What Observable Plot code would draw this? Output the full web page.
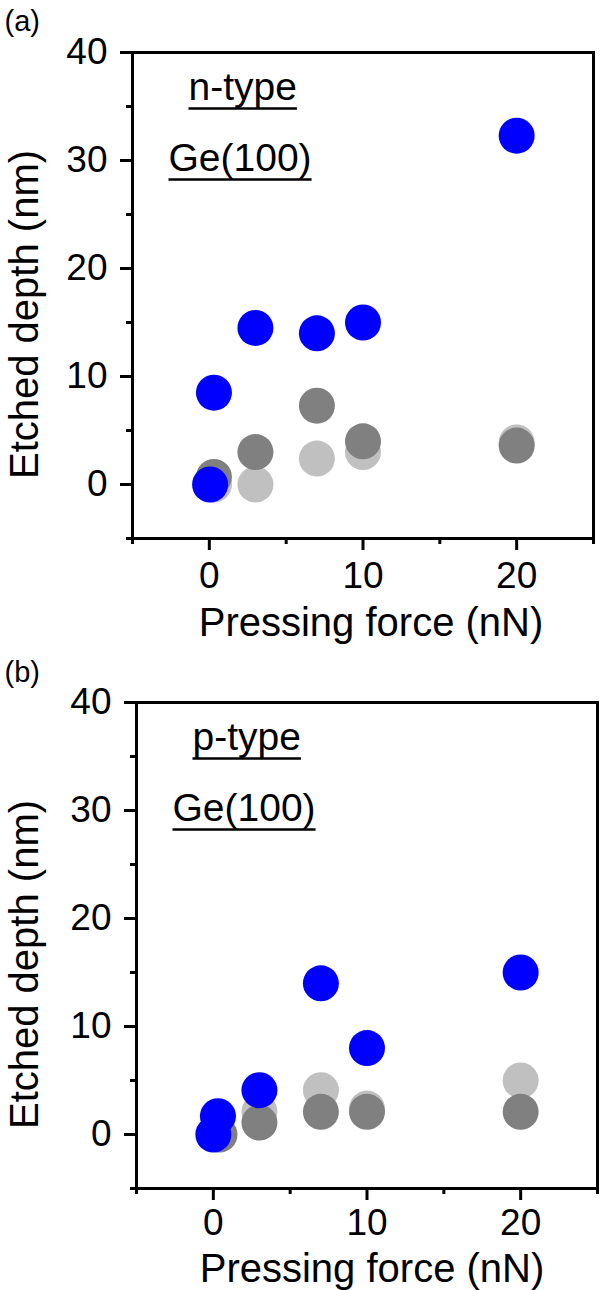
<!DOCTYPE html>
<html><head><meta charset="utf-8">
<script src="https://cdn.jsdelivr.net/npm/d3@7"></script>
<script src="https://cdn.jsdelivr.net/npm/@observablehq/plot@0.6"></script>
<style>
html,body{margin:0;padding:0;background:#fff;}
#chart svg{display:block;}
</style></head><body><div id="chart"></div>
<script>
// ---- axes / labels ----
const xDomain = [-5, 25];
const yDomain = [-5, 40];
const xMajorTicks = [0, 10, 20];
const xMinorTicks = [-5, 5, 15, 25];
const yMajorTicks = [0, 10, 20, 30, 40];
const yMinorTicks = [-5, 5, 15, 25, 35];
const xTitle = "Pressing force (nN)";
const yTitle = "Etched depth (nm)";
const panelLabels = ["(a)", "(b)"];
const dopingLabels = ["n-type", "p-type"];
const crystalLabel = "Ge(100)";

// ---- panel (a): n-type Ge(100) ----
const aLightForce = [0.3, 3, 7, 10, 20];
const aLightDepth = [0, 0, 2.4, 3.0, 3.9];
const aDarkForce = [0.3, 3, 7, 10, 20];
const aDarkDepth = [0.7, 3.0, 7.3, 4.0, 3.6];
const aBlueForce = [0.05, 0.3, 3, 7, 10, 20];
const aBlueDepth = [0, 8.5, 14.5, 14.0, 15.0, 32.3];

// ---- panel (b): p-type Ge(100) ----
const bLightForce = [0.3, 3, 7, 10, 20];
const bLightDepth = [0, 2.1, 4.1, 2.4, 5.0];
const bDarkForce = [0.4, 3, 7, 10, 20];
const bDarkDepth = [0, 1.1, 2.1, 2.1, 2.1];
const bBlueForce = [0, 0.3, 3, 7, 10, 20];
const bBlueDepth = [0, 1.7, 4.1, 14.0, 8.0, 15.0];

const FONT = "'Liberation Sans', Arial, Helvetica, sans-serif";
const colors = {light: "#c0c0c0", dark: "#808080", blue: "#0000ff"};

function pts(xs, ys) { return xs.map((x, i) => ({x, y: ys[i]})); }

function panel(cfg) {
  const W = 600, H = 645;
  const series = [
    {d: pts(cfg.light[0], cfg.light[1]), c: colors.light},
    {d: pts(cfg.dark[0], cfg.dark[1]), c: colors.dark},
    {d: pts(cfg.blue[0], cfg.blue[1]), c: colors.blue}
  ];
  const plot = Plot.plot({
    width: W, height: H,
    marginTop: cfg.mt, marginBottom: H - cfg.mt - 486, marginLeft: cfg.ml, marginRight: W - cfg.ml - 461,
    style: {fontFamily: FONT, fontSize: "37px", background: "white", color: "black"},
    x: {domain: xDomain, label: null},
    y: {domain: yDomain, label: null},
    marks: [
      ...series.map(s => Plot.dot(s.d, {x: "x", y: "y", r: 18, fill: s.c, stroke: null})),
      Plot.frame({stroke: "black", strokeWidth: 3}),
      Plot.axisX({ticks: xMajorTicks, tickSize: 12, tickPadding: cfg.xpad, strokeWidth: 3, fontSize: 37, label: null}),
      Plot.axisX({ticks: xMinorTicks, tickSize: 6, tickFormat: () => "", strokeWidth: 3, label: null}),
      Plot.axisY({ticks: yMajorTicks, tickSize: 12, tickPadding: 13, strokeWidth: 3, fontSize: 37, label: null}),
      Plot.axisY({ticks: yMinorTicks, tickSize: 6, tickFormat: () => "", strokeWidth: 3, label: null}),
      Plot.text([xTitle], {frameAnchor: "bottom", textAnchor: "middle", lineAnchor: "top", dy: cfg.xtDy, dx: cfg.xtDx, fontSize: 40}),
      Plot.text([yTitle], {frameAnchor: "left", textAnchor: "middle", rotate: -90, lineAnchor: "middle", dx: 25 - cfg.ml, dy: 19, fontSize: 40}),
      Plot.text([cfg.tag], {frameAnchor: "top-left", textAnchor: "start", lineAnchor: "middle", dx: 4 - cfg.ml, dy: cfg.tagDy, fontSize: 29}),
      Plot.text([cfg.doping], {frameAnchor: "top-left", textAnchor: "start", lineAnchor: "bottom", dx: 56, dy: 47, fontSize: 39}),
      Plot.text([crystalLabel], {frameAnchor: "top-left", textAnchor: "start", lineAnchor: "bottom", dx: 36, dy: 118, fontSize: 39})
    ]
  });
  return plot;
}

const root = document.getElementById("chart");
const p1 = panel({mt: 52, ml: 132, light: [aLightForce, aLightDepth], dark: [aDarkForce, aDarkDepth], blue: [aBlueForce, aBlueDepth],
  tag: panelLabels[0], doping: dopingLabels[0], tagDy: -31, xpad: 11, xtDy: 69, xtDx: 8});
const p2 = panel({mt: 57, ml: 136, light: [bLightForce, bLightDepth], dark: [bDarkForce, bDarkDepth], blue: [bBlueForce, bBlueDepth],
  tag: panelLabels[1], doping: dopingLabels[1], tagDy: -30, xpad: 8, xtDy: 65, xtDx: 5});
root.appendChild(p1);
root.appendChild(p2);

// underline the annotation labels
const under = new Set([...dopingLabels, crystalLabel]);
[p1, p2].forEach(svg => {
  d3.select(svg).selectAll("text").filter(function() { return under.has(this.textContent); }).each(function() {
    const b = this.getBBox();
    d3.select(this.parentNode).append("line")
      .attr("transform", this.getAttribute("transform"))
      .attr("x1", b.x).attr("x2", b.x + b.width)
      .attr("y1", b.y + b.height + 1).attr("y2", b.y + b.height + 1)
      .attr("stroke", "black").attr("stroke-width", 2.5);
  });
});
</script></body></html>
